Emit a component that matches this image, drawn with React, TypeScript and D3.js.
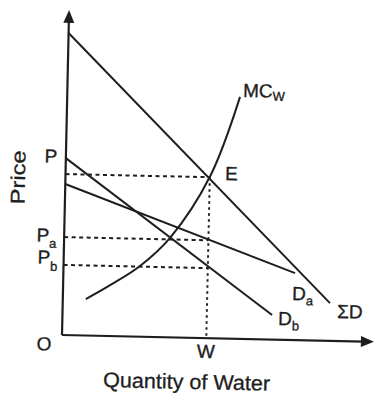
import React from "react";
import * as d3 from "d3";

// ---- data (abstract units: quantity 0..100, price 0..100) ----
const axisMaxQ = 97.5;
const axisMaxP = 101.6;

const sumDQ = [0, 83.5];
const sumDP = [94.4, 11.8];

const daQ = [0, 72.4];
const daP = [47.2, 20.9];

const dbQ = [0, 65.5];
const dbP = [55.3, 7.7];

const mcQ = [7.2, 14.7, 23.9, 33.1, 45.2, 54.0];
const mcP = [11.4, 15.9, 22.1, 31.1, 50.6, 75.6];

const quantityW = 45.1;
const priceE = 50.3;
const priceA = 30.6;
const priceB = 21.9;

const INK = "#1e1e1e";
const FONT = "'Liberation Sans', Arial, Helvetica, sans-serif";

export default function App() {
  const x = d3.scaleLinear().domain([0, 100]).range([0, 320]);
  const y = d3.scaleLinear().domain([0, 100]).range([0, -320]);

  const line = d3
    .line<[number, number]>()
    .x((d) => x(d[0]))
    .y((d) => y(d[1]));

  const curve = d3
    .line<[number, number]>()
    .x((d) => x(d[0]))
    .y((d) => y(d[1]))
    .curve(d3.curveCatmullRom.alpha(0.5));

  const pts = (qs: number[], ps: number[]) =>
    qs.map((q, i) => [q, ps[i]] as [number, number]);

  const xEnd = x(axisMaxQ);
  const yEnd = y(axisMaxP);

  return (
    <svg
      width={375}
      height={395}
      style={{ position: "absolute", left: 0, top: 0, background: "#fff" }}
      fontFamily={FONT}
    >
      <rect width={375} height={395} fill="#fff" />
      <g transform="translate(62,335) rotate(1.25)">
        {/* axes */}
        <line x1={0} y1={0} x2={0} y2={yEnd + 10} stroke={INK} strokeWidth={2.2} />
        <line x1={0} y1={0} x2={xEnd - 10} y2={0} stroke={INK} strokeWidth={2.2} />
        <path
          d={`M0,${yEnd} L-5.5,${yEnd + 13} L5.5,${yEnd + 13} Z`}
          fill={INK}
        />
        <path
          d={`M${xEnd},0 L${xEnd - 13},-5.5 L${xEnd - 13},5.5 Z`}
          fill={INK}
        />

        {/* dashed guides */}
        <line
          x1={0}
          x2={x(quantityW)}
          y1={y(priceE)}
          y2={y(priceE)}
          stroke={INK}
          strokeWidth={2}
          strokeDasharray="4,3.5"
        />
        <line
          x1={0}
          x2={x(quantityW)}
          y1={y(priceA)}
          y2={y(priceA)}
          stroke={INK}
          strokeWidth={2}
          strokeDasharray="4,3.5"
        />
        <line
          x1={0}
          x2={x(quantityW)}
          y1={y(priceB)}
          y2={y(priceB)}
          stroke={INK}
          strokeWidth={2}
          strokeDasharray="4,3.5"
        />
        <line
          x1={x(quantityW)}
          x2={x(quantityW)}
          y1={y(priceE)}
          y2={0}
          stroke={INK}
          strokeWidth={2}
          strokeDasharray="2.5,3.5"
        />

        {/* curves */}
        <path d={line(pts(sumDQ, sumDP)) || ""} fill="none" stroke={INK} strokeWidth={2} />
        <path d={line(pts(daQ, daP)) || ""} fill="none" stroke={INK} strokeWidth={2} />
        <path d={line(pts(dbQ, dbP)) || ""} fill="none" stroke={INK} strokeWidth={2} />
        <path d={curve(pts(mcQ, mcP)) || ""} fill="none" stroke={INK} strokeWidth={2} />

        {/* labels */}
        <g fill={INK} stroke={INK} strokeWidth={0.35} fontSize={19}>
          <text x={-15} y={-172} textAnchor="middle">P</text>
          <text x={-27.5} y={-93}>
            P<tspan fontSize={13} dy={6}>a</tspan>
          </text>
          <text x={-26} y={-71}>
            P<tspan fontSize={13} dy={7}>b</tspan>
          </text>
          <text x={-17.8} y={15.8} textAnchor="middle">O</text>
          <text x={144.3} y={19.8} textAnchor="middle">W</text>
          <text x={159.6} y={-158.6}>E</text>
          <text x={175.8} y={-241.9}>
            MC<tspan fontSize={13} dy={3}>W</tspan>
          </text>
          <text x={229.2} y={-40}>
            D<tspan fontSize={13} dy={5}>a</tspan>
          </text>
          <text x={215.8} y={-14.7}>
            D<tspan fontSize={13} dy={5}>b</tspan>
          </text>
          <text x={274.6} y={-23}>ΣD</text>
          <text
            x={42.1}
            y={51.1}
            fontSize={21}
            textLength={167}
            lengthAdjust="spacingAndGlyphs"
            strokeWidth={0.3}
          >
            Quantity of Water
          </text>
          <text
            transform="translate(-40.4,-156.6) rotate(-90)"
            textAnchor="middle"
            fontSize={20}
            textLength={54}
            lengthAdjust="spacingAndGlyphs"
            strokeWidth={0.3}
          >
            Price
          </text>
        </g>
      </g>
    </svg>
  );
}
